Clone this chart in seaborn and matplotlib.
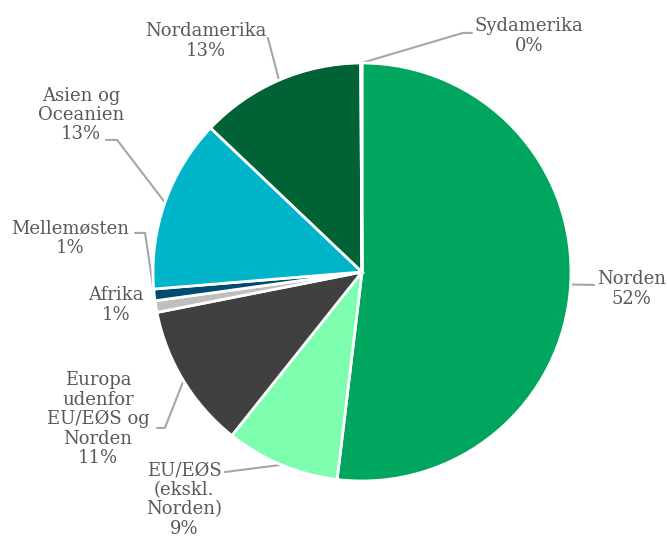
import matplotlib
matplotlib.use("Agg")
import matplotlib.pyplot as plt
import seaborn as sns
import numpy as np

# Data
regioner = ["Norden", "EU/EØS\n(ekskl.\nNorden)", "Europa\nudenfor\nEU/EØS og\nNorden",
            "Afrika", "Mellemøsten", "Asien og\nOceanien", "Nordamerika", "Sydamerika"]
andele = [51.9, 8.8, 11.2, 0.9, 0.9, 13.4, 12.8, 0.1]
procent_tekst = ["52%", "9%", "11%", "1%", "1%", "13%", "13%", "0%"]
farver = ["#00a65d", "#7dfdae", "#404040", "#bfbfbf", "#004b6e", "#00b5c9", "#006235", "#9dc3e6"]

# label centres and leader line points (data units, radius = 1)
label_pos = [(1.290, -0.081), (-0.852, -1.090), (-1.263, -0.705), (-1.177, -0.158),
             (-1.397, 0.163), (-1.344, 0.751), (-0.746, 1.105), (0.799, 1.129)]
leader_start = [(1.110, -0.062), (-0.656, -0.957), (-0.981, -0.746), None,
                (-1.086, 0.187), (-1.225, 0.632), (-0.450, 1.120), (0.526, 1.144)]
leader_elbow = [None, None, (-0.943, -0.746), None,
                (-1.038, 0.187), (-1.172, 0.632), None, (0.483, 1.144)]

sns.set_theme(style="white")
plt.rcParams['font.family'] = ['DejaVu Serif']

fig = plt.figure(figsize=(6.67, 5.38), dpi=100)
ax = fig.add_axes([0, 0, 1, 1])

wedges, _ = ax.pie(andele, colors=farver, startangle=90, counterclock=False,
                   radius=1, wedgeprops=dict(edgecolor="white", linewidth=2))

for i, w in enumerate(wedges):
    tekst = regioner[i] + "\n" + procent_tekst[i]
    x, y = label_pos[i]
    ax.text(x, y, tekst, ha="center", va="center", fontsize=13, color="#595959",
            linespacing=1.1)
    if leader_start[i] is None:
        continue
    mid = np.deg2rad((w.theta1 + w.theta2) / 2)
    edge = (np.cos(mid), np.sin(mid))
    pts = [leader_start[i]]
    if leader_elbow[i] is not None:
        pts.append(leader_elbow[i])
    pts.append(edge)
    pts = np.array(pts)
    ax.plot(pts[:, 0], pts[:, 1], color="#a6a6a6", linewidth=1.5, zorder=0)

ax.set_xlim(-362 / 209, (667 - 362) / 209)
ax.set_ylim((272 - 538) / 209, 272 / 209)
ax.set_aspect("equal")
ax.axis("off")

fig.savefig("out.png", dpi=100)
